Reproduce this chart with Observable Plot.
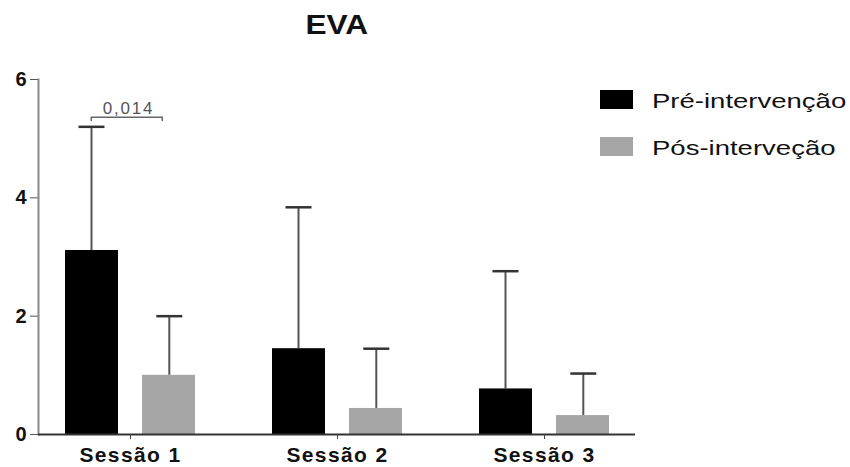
<!DOCTYPE html>
<html>
<head>
<meta charset="utf-8">
<script src="https://cdn.jsdelivr.net/npm/d3@7"></script>
<script src="https://cdn.jsdelivr.net/npm/@observablehq/plot@0.6"></script>
<style>
  html, body { margin: 0; padding: 0; background: #fff; }
  #chart { position: relative; width: 850px; height: 467px; overflow: hidden;
           font-family: "Liberation Sans", Arial, Helvetica, sans-serif; }
  #title { position: absolute; left: 38px; top: 0; width: 597px; height: 50px;
           line-height: 50px; text-align: center; font-size: 28px; font-weight: bold;
           color: #111; }
  #title span { display: inline-block; transform: scaleX(1.13); }
  #plot { position: absolute; left: 0; top: 50px; }
  .legend-swatch { position: absolute; width: 33px; height: 19px; }
  .legend-label { position: absolute; font-size: 21px; line-height: 24px; color: #111;
                  white-space: nowrap; transform: scaleX(1.31); transform-origin: left center; }
  #plot g[aria-label="x-axis tick label"] text { letter-spacing: 1.4px; }
  .pval text { letter-spacing: 1.8px; }
</style>
</head>
<body>
<div id="chart">
  <div id="title"><span>EVA</span></div>
  <div id="plot"></div>
</div>
<script>
// Pain scale (EVA) per session, mean and standard deviation for each group
const sessions = ["Sessão 1", "Sessão 2", "Sessão 3"];
const groups = ["Pré-intervenção", "Pós-interveção"];
const preMean = [3.11, 1.45, 0.77];
const preSD = [2.09, 2.39, 1.99];
const postMean = [1.0, 0.44, 0.32];
const postSD = [1.0, 1.01, 0.71];
const yTicks = [0, 2, 4, 6];
const pValue = "0,014";          // Pré vs Pós, Sessão 1
const pSession = "Sessão 1";
const colors = ["#000000", "#a6a6a6"];

const pre = sessions.map((s, i) => ({session: s, group: groups[0], mean: preMean[i], sd: preSD[i]}));
const post = sessions.map((s, i) => ({session: s, group: groups[1], mean: postMean[i], sd: postSD[i]}));

// bracket sits a little above the taller error bar of the compared session
const cmp = pre.find(d => d.session === pSession);
const bracketLevel = cmp.mean + cmp.sd + 0.16;
const bracket = [{session: pSession, level: bracketLevel, text: pValue}];

// within each session band (130px): black bar on the left, grey bar on the right
const BW = 130, BAR = 53;
const errStem = {stroke: null, y1: d => d.mean, y2: d => d.mean + d.sd};

const chart = Plot.plot({
  width: 850,
  height: 417,
  marginLeft: 38,
  marginRight: 215,
  marginTop: 29,
  marginBottom: 33,
  style: {fontFamily: "'Liberation Sans', Arial, Helvetica, sans-serif", background: "transparent", color: "#111", overflow: "visible"},
  x: {domain: sessions, paddingInner: 0.3735, paddingOuter: 0.1253, label: null},
  y: {domain: [0, 6], label: null},
  marks: [
    // error bar stems
    Plot.barY(pre, {x: "session", ...errStem, fill: "#555", insetLeft: 25.5, insetRight: BW - 27.5}),
    Plot.barY(post, {x: "session", ...errStem, fill: "#555", insetLeft: 103.3, insetRight: BW - 105.3}),
    // error bar caps
    Plot.tickY(pre, {x: "session", y: d => d.mean + d.sd, stroke: "#333", strokeWidth: 2.5, insetLeft: 13.5, insetRight: BW - 39.5}),
    Plot.tickY(post, {x: "session", y: d => d.mean + d.sd, stroke: "#333", strokeWidth: 2.5, insetLeft: 91.3, insetRight: BW - 117.3}),
    // bars
    Plot.barY(pre, {x: "session", y: "mean", fill: colors[0], insetRight: BW - BAR}),
    Plot.barY(post, {x: "session", y: "mean", fill: colors[1], insetLeft: BW - BAR}),
    // significance bracket
    Plot.tickY(bracket, {x: "session", y: "level", stroke: "#666", strokeWidth: 1.5, insetLeft: 26, insetRight: BW - 98}),
    Plot.barY(bracket, {x: "session", y1: d => d.level - 0.07, y2: "level", fill: "#666", insetLeft: 25.5, insetRight: BW - 27}),
    Plot.barY(bracket, {x: "session", y1: d => d.level - 0.07, y2: "level", fill: "#666", insetLeft: 96.5, insetRight: BW - 98}),
    Plot.text(bracket, {x: "session", y: "level", text: "text", fontSize: 17, fill: "#555", lineAnchor: "bottom", dy: -3, dx: -2, className: "pval"}),
    // axes
    Plot.axisY({ticks: yTicks, tickSize: 8, tickPadding: 4, fontSize: 20, fontWeight: "bold", stroke: "#555", fill: "#111", tickFormat: d => String(d)}),
    Plot.frame({anchor: "left", stroke: "#888", strokeWidth: 2}),
    Plot.ruleY([0], {stroke: "#333", strokeWidth: 2}),
    Plot.axisX({tickSize: 5, tickPadding: 8, fontSize: 21, fontWeight: "bold", stroke: "#444", fill: "#111"})
  ]
});
document.getElementById("plot").appendChild(chart);

// legend, to the right of the plot area
const chartDiv = document.getElementById("chart");
const legendTop = [90, 137];
groups.forEach((g, i) => {
  const sw = document.createElement("div");
  sw.className = "legend-swatch";
  sw.style.left = "600px";
  sw.style.top = legendTop[i] + "px";
  sw.style.background = colors[i];
  chartDiv.appendChild(sw);
  const lab = document.createElement("div");
  lab.className = "legend-label";
  lab.style.left = "652px";
  lab.style.top = (legendTop[i] - 1.5) + "px";
  lab.textContent = g;
  chartDiv.appendChild(lab);
});
</script>
</body>
</html>
